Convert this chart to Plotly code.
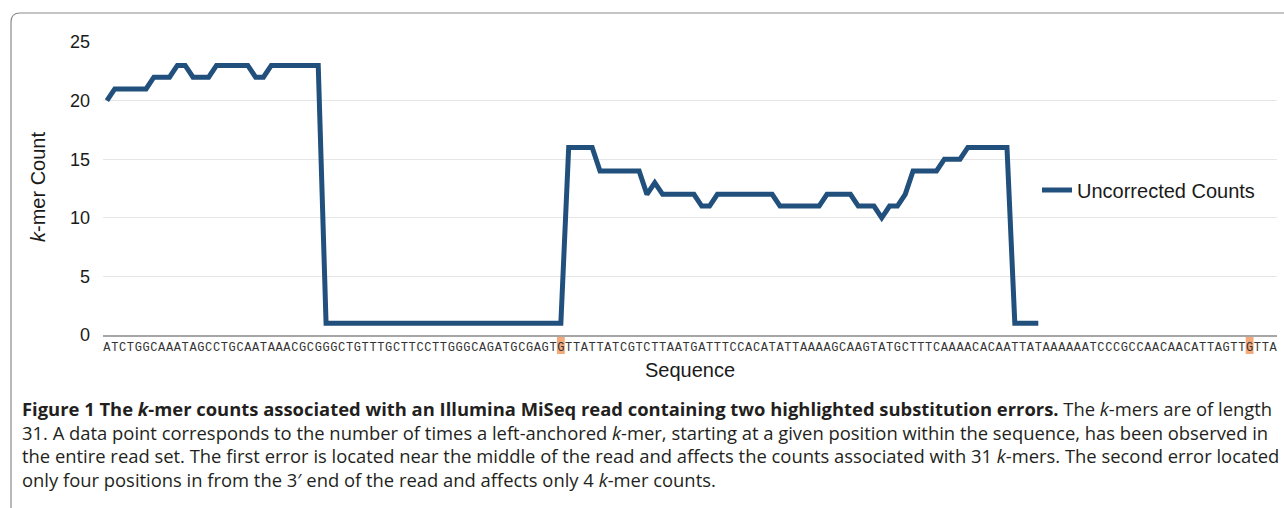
import plotly.graph_objects as go

# ---------------- data ----------------
sequence = ("ATCTGGCAAATAGCCTGCAATAAACGCGG"
            "GCTGTTTGCTTCCTTGGGCAGATGCGAGTG"
            "TTATTATCGTCTTAATGATTTCCACATATT"
            "AAAAGCAAGTATGCTTTCAAAACACAATTA"
            "TAAAAAATCCCGCCAACAACATTAGTTGTTA")
seq_letters = list(sequence)
error_positions = [58, 146]

kmer_counts = ([20] + [21]*5 + [22]*3 + [23]*2 + [22]*3 + [23]*5 + [22]*2 + [23]*7
               + [1]*31
               + [16]*4 + [14]*6 + [12] + [13] + [12]*5 + [11]*2 + [12]*8 + [11]*6
               + [12]*4 + [11]*3 + [10] + [11]*2 + [12] + [14]*4 + [15]*3 + [16]*6
               + [1]*4)
kmer_positions = list(range(len(kmer_counts)))
seq_positions = list(range(len(seq_letters)))
y_ticks = [0, 5, 10, 15, 20, 25]

series_name = "Uncorrected Counts"
caption_lines = [
    "<b>Figure 1 The <i>k</i>-mer counts associated with an Illumina MiSeq read containing two highlighted substitution errors.</b> The <i>k</i>-mers are of length",
    "31. A data point corresponds to the number of times a left-anchored <i>k</i>-mer, starting at a given position within the sequence, has been observed in",
    "the entire read set. The first error is located near the middle of the read and affects the counts associated with 31 <i>k</i>-mers. The second error located",
    "only four positions in from the 3\u2032 end of the read and affects only 4 <i>k</i>-mer counts.",
]

# ---------------- layout helpers (pixel -> paper) ----------------
W, H = 1284, 508
def px(x): return x / W
def py(y): return 1 - y / H

fig = go.Figure()
fig.add_trace(go.Scatter(
    x=kmer_positions, y=kmer_counts, mode="lines", name=series_name,
    line=dict(color="#22507d", width=5, shape="linear"),
))

shapes = []
for p in error_positions:
    shapes.append(dict(type="rect", xref="x", yref="paper",
                       x0=p - 0.5, x1=p + 0.5, y0=py(354), y1=py(335),
                       fillcolor="#f4a97a", line=dict(width=0), layer="below"))

# rounded frame around the chart
r = 9
x0, y0 = 11, 13
path = (f"M {px(x0)},{py(H + 20)} L {px(x0)},{py(y0 + r)} "
        f"Q {px(x0)},{py(y0)} {px(x0 + r)},{py(y0)} L {px(W + 20)},{py(y0)}")
shapes.append(dict(type="path", xref="paper", yref="paper", path=path,
                   line=dict(color="#8a8a8a", width=1.2)))

title_font = dict(family="Liberation Sans", size=20, color="#1a1a1a")
annotations = [
    dict(text="<i>k</i>-mer Count", x=px(38), y=py(187), xref="paper", yref="paper",
         textangle=-90, showarrow=False, xanchor="center", yanchor="middle",
         font=title_font),
    dict(text="Sequence", x=px(690), y=py(370), xref="paper", yref="paper",
         showarrow=False, xanchor="center", yanchor="middle",
         font=title_font),
]
caption_y = [408, 432, 455, 479]
for line, yy in zip(caption_lines, caption_y):
    annotations.append(dict(text=line, x=px(20), y=py(yy), xref="paper", yref="paper",
                            showarrow=False, xanchor="left", yanchor="middle",
                            font=dict(family="Open Sans", size=18.4, color="#231f20")))

fig.update_layout(
    width=W, height=H, autosize=False,
    margin=dict(l=0, r=0, t=0, b=0, autoexpand=False),
    paper_bgcolor="white", plot_bgcolor="white",
    shapes=shapes, annotations=annotations,
    showlegend=True,
    legend=dict(x=px(1037), y=py(190), xanchor="left", yanchor="middle",
                font=title_font, bgcolor="rgba(0,0,0,0)", itemwidth=30),
    xaxis=dict(domain=[px(103), px(1277)], range=[-0.5, 149.5],
               tickmode="array", tickvals=seq_positions, ticktext=seq_letters,
               tickangle=0, ticks="", showgrid=False, zeroline=False,
               showline=True, linecolor="#a6a6a6", linewidth=1.5,
               tickfont=dict(family="Liberation Mono", size=12, color="#333333"),
               automargin=False, fixedrange=True),
    yaxis=dict(domain=[py(335), py(42)], range=[0, 25],
               tickmode="array", tickvals=y_ticks, ticks="",
               showgrid=True, gridcolor="#e6e6e6", gridwidth=1.2,
               zeroline=False, showline=False,
               ticklabelstandoff=12,
               tickfont=dict(family="Liberation Sans", size=18, color="#1a1a1a"),
               automargin=False, fixedrange=True),
)

fig.write_html(
    "out.html",
    config={"displayModeBar": False},
    post_script="document.body.style.margin='0';document.body.style.overflow='hidden';",
)
